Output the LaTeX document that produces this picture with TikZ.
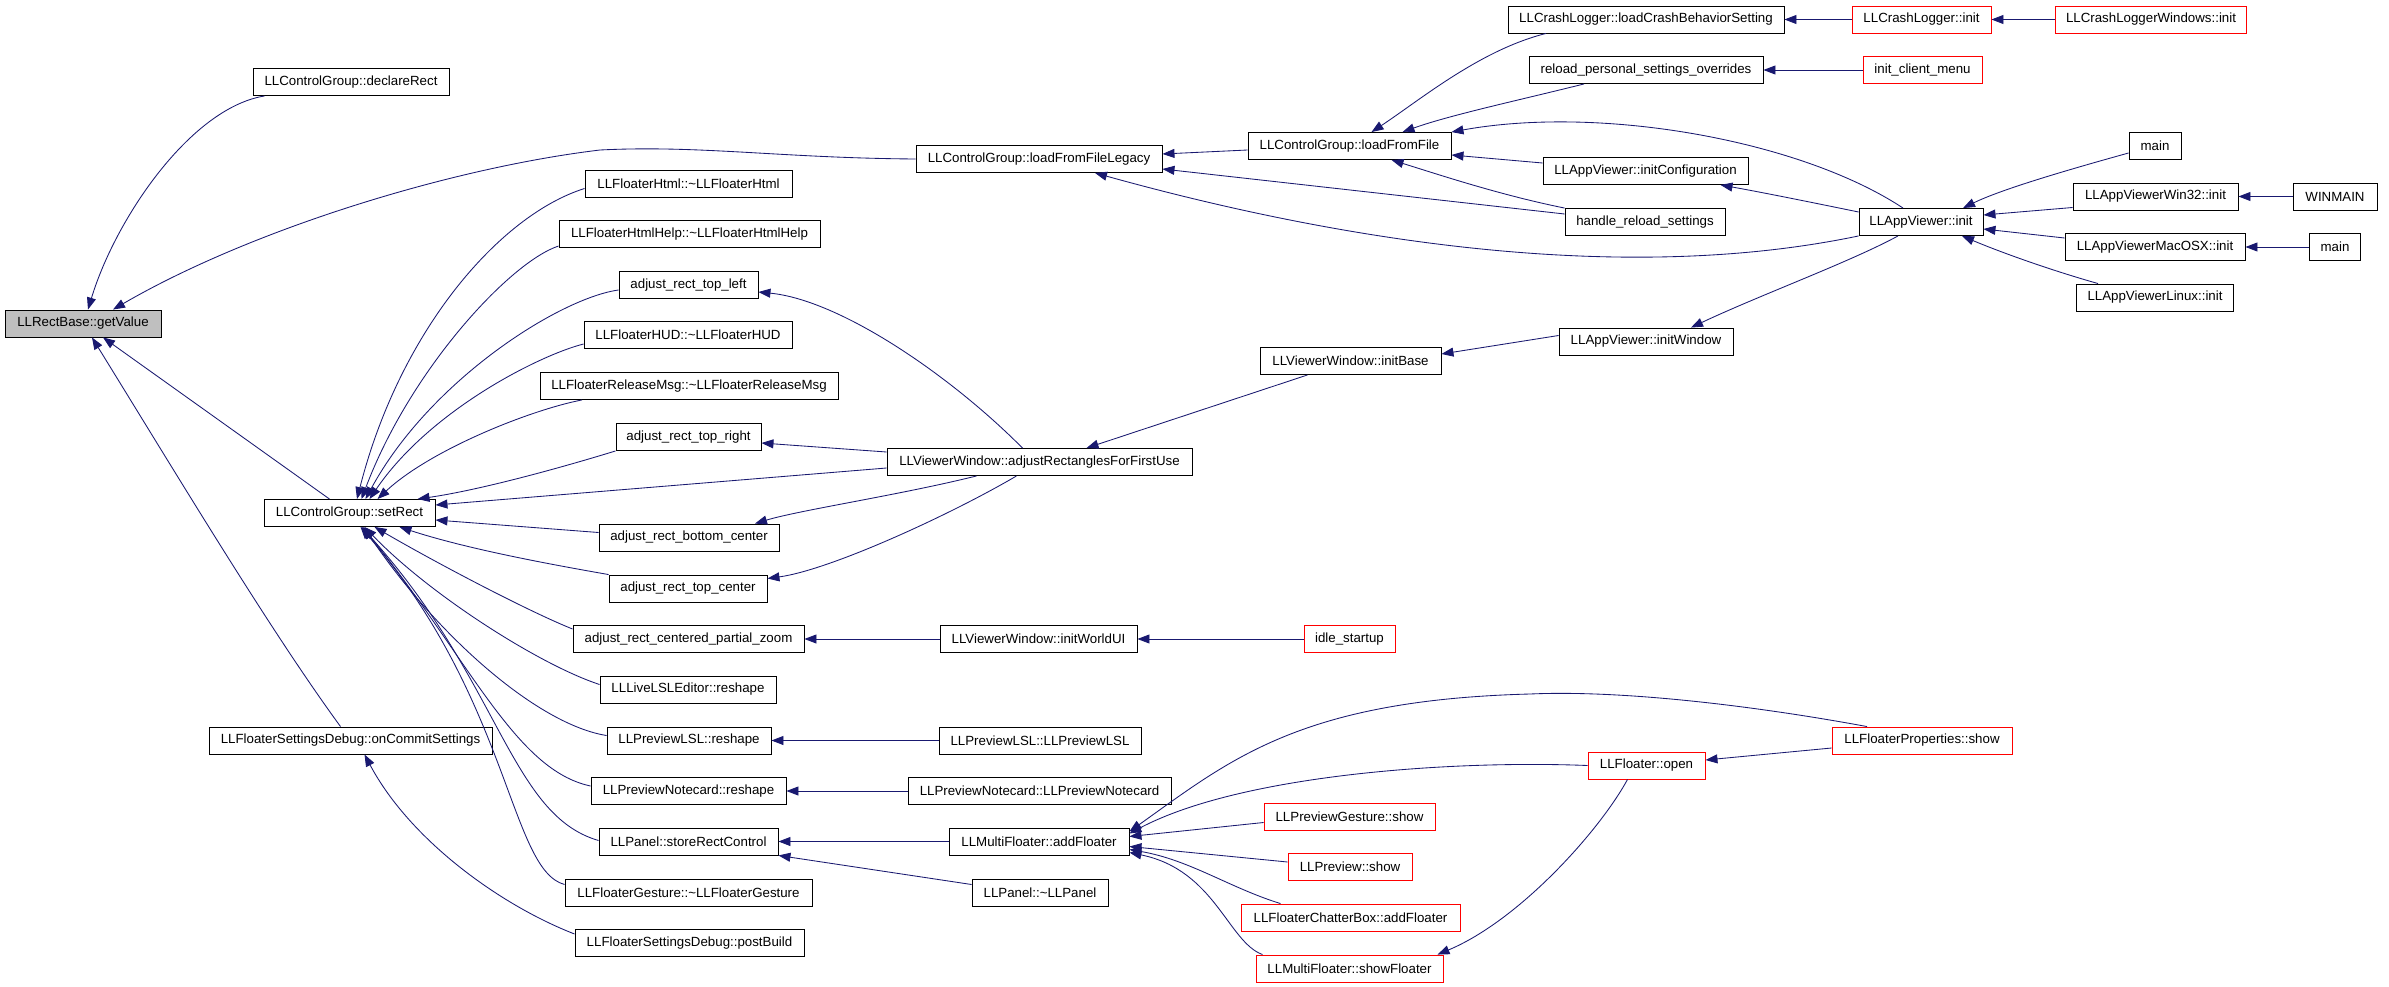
\documentclass[tikz,border=0pt]{standalone}
\usepackage{fontspec}
\setmainfont{Liberation Sans}
\usetikzlibrary{arrows.meta}
\definecolor{navyc}{HTML}{191970}
\definecolor{redc}{HTML}{FF0000}
\definecolor{grayc}{HTML}{BFBFBF}
\begin{document}
\begin{tikzpicture}[x=1pt,y=-1pt,
  fn/.style={draw=black, line width=0.9pt, rectangle, inner sep=0pt, minimum height=27pt,
    font=\fontsize{13.3}{16}\selectfont, text=black},
  fnred/.style={fn, draw=redc},
  fnroot/.style={fn, fill=grayc},
  callarrow/.style={draw=navyc, line width=0.85pt, -{Triangle[length=12pt,width=9pt]}}]
\useasboundingbox (0,0) rectangle (2389,987);
\fill[white] (0,0) rectangle (2389,987);
% nodes
\node[fnroot, minimum width=156pt] (gv) at (83,323.5) {LLRectBase::getValue};
\node[fn, minimum width=196pt] (dr) at (351,82) {LLControlGroup::declareRect};
\node[fn, minimum width=171pt] (sr) at (349.5,513) {LLControlGroup::setRect};
\node[fn, minimum width=283pt] (ocs) at (350.5,740.5) {LLFloaterSettingsDebug::onCommitSettings};
\node[fn, minimum width=246pt] (lffl) at (1039,159) {LLControlGroup::loadFromFileLegacy};
\node[fn, minimum width=207pt] (fhtml) at (688.5,183.5) {LLFloaterHtml::\textasciitilde LLFloaterHtml};
\node[fn, minimum width=261pt] (fhelp) at (689.5,234) {LLFloaterHtmlHelp::\textasciitilde LLFloaterHtmlHelp};
\node[fn, minimum width=139pt] (atl) at (688.5,285) {adjust\_rect\_top\_left};
\node[fn, minimum width=208pt] (fhud) at (688,335) {LLFloaterHUD::\textasciitilde LLFloaterHUD};
\node[fn, minimum width=298pt] (frel) at (689,386) {LLFloaterReleaseMsg::\textasciitilde LLFloaterReleaseMsg};
\node[fn, minimum width=145pt] (atr) at (688.5,437) {adjust\_rect\_top\_right};
\node[fn, minimum width=305pt] (arffu) at (1039.5,462) {LLViewerWindow::adjustRectanglesForFirstUse};
\node[fn, minimum width=180pt] (abc) at (689,537.5) {adjust\_rect\_bottom\_center};
\node[fn, minimum width=158pt] (atc) at (688,588.5) {adjust\_rect\_top\_center};
\node[fn, minimum width=231pt] (acpz) at (688.5,639) {adjust\_rect\_centered\_partial\_zoom};
\node[fn, minimum width=197pt] (iwui) at (1038.5,639) {LLViewerWindow::initWorldUI};
\node[fnred, minimum width=91pt] (idle) at (1349.5,639) {idle\_startup};
\node[fn, minimum width=176pt] (lsled) at (688,689.5) {LLLiveLSLEditor::reshape};
\node[fn, minimum width=164pt] (plslr) at (689,740.5) {LLPreviewLSL::reshape};
\node[fn, minimum width=202pt] (plslc) at (1040,740.5) {LLPreviewLSL::LLPreviewLSL};
\node[fn, minimum width=195pt] (pncr) at (688.5,791) {LLPreviewNotecard::reshape};
\node[fn, minimum width=263pt] (pncc) at (1039.5,791) {LLPreviewNotecard::LLPreviewNotecard};
\node[fn, minimum width=179pt] (srctl) at (688.5,841.5) {LLPanel::storeRectControl};
\node[fn, minimum width=180pt] (maf) at (1039,841.5) {LLMultiFloater::addFloater};
\node[fn, minimum width=247pt] (fgest) at (688.5,892.5) {LLFloaterGesture::\textasciitilde LLFloaterGesture};
\node[fn, minimum width=136pt] (pdtor) at (1040,892.5) {LLPanel::\textasciitilde LLPanel};
\node[fn, minimum width=229pt] (pbuild) at (689.5,943) {LLFloaterSettingsDebug::postBuild};
\node[fn, minimum width=181pt] (ibase) at (1350.5,361) {LLViewerWindow::initBase};
\node[fn, minimum width=203pt] (lff) at (1349.5,146) {LLControlGroup::loadFromFile};
\node[fn, minimum width=276pt] (lcbs) at (1646,19.5) {LLCrashLogger::loadCrashBehaviorSetting};
\node[fn, minimum width=234pt] (rpso) at (1646,70) {reload\_personal\_settings\_overrides};
\node[fn, minimum width=205pt] (icfg) at (1645.5,171) {LLAppViewer::initConfiguration};
\node[fn, minimum width=160pt] (hrs) at (1645,222) {handle\_reload\_settings};
\node[fn, minimum width=174pt] (iwin) at (1646,341.5) {LLAppViewer::initWindow};
\node[fn, minimum width=124pt] (avi) at (1921,222) {LLAppViewer::init};
\node[fnred, minimum width=139pt] (cli) at (1921.5,19.5) {LLCrashLogger::init};
\node[fnred, minimum width=119pt] (icm) at (1922.5,70) {init\_client\_menu};
\node[fnred, minimum width=191pt] (clw) at (2151,19.5) {LLCrashLoggerWindows::init};
\node[fn, minimum width=52pt] (mainA) at (2155,146) {main};
\node[fn, minimum width=165pt] (w32) at (2155.5,196.5) {LLAppViewerWin32::init};
\node[fn, minimum width=84pt] (winmain) at (2335,196.5) {WINMAIN};
\node[fn, minimum width=180pt] (mac) at (2155,247) {LLAppViewerMacOSX::init};
\node[fn, minimum width=51pt] (mainB) at (2335,247) {main};
\node[fn, minimum width=157pt] (lin) at (2155,297.5) {LLAppViewerLinux::init};
\node[fnred, minimum width=180pt] (fps) at (1922,740.5) {LLFloaterProperties::show};
\node[fnred, minimum width=117pt] (fopen) at (1646.5,765.5) {LLFloater::open};
\node[fnred, minimum width=171pt] (pgs) at (1349.5,816.5) {LLPreviewGesture::show};
\node[fnred, minimum width=124pt] (pvs) at (1350,867) {LLPreview::show};
\node[fnred, minimum width=219pt] (fcb) at (1350.5,917.5) {LLFloaterChatterBox::addFloater};
\node[fnred, minimum width=187pt] (msf) at (1349.5,968.5) {LLMultiFloater::showFloater};
% edges into getValue
\draw[callarrow] (dr) .. controls (190,108) and (115,220) .. ([xshift=5pt]gv.north);
\draw[callarrow] (lffl.west) .. controls (780,158) and (700,145) .. (600,150) .. controls (450,168) and (250,230) .. ([xshift=30pt]gv.north);
\draw[callarrow] ([xshift=-20pt]sr.north) -- ([xshift=20pt]gv.south);
\draw[callarrow] ([xshift=-10pt]ocs.north) .. controls (270,630) and (180,480) .. ([xshift=9pt]gv.south);
\draw[callarrow] ([yshift=9pt]pbuild.west) .. controls (500,905) and (410,840) .. ([xshift=14pt]ocs.south);
% edges into setRect
\draw[callarrow] ([yshift=-5pt]fhtml.west) .. controls (500,215) and (400,330) .. ([xshift=7.5pt]sr.north);
\draw[callarrow] ([yshift=-12pt]fhelp.west) .. controls (510,262) and (410,370) .. ([xshift=12pt]sr.north);
\draw[callarrow] ([yshift=-5pt]atl.west) .. controls (560,298) and (430,380) .. ([xshift=16pt]sr.north);
\draw[callarrow] ([yshift=-9pt]fhud.west) .. controls (540,355) and (430,410) .. ([xshift=20pt]sr.north);
\draw[callarrow] ([xshift=-107pt]frel.south) .. controls (530,410) and (430,450) .. ([xshift=28pt]sr.north);
\draw[callarrow] (atr.south west) .. controls (560,468) and (480,490) .. ([xshift=68pt]sr.north);
\draw[callarrow] ([yshift=-6pt]arffu.west) -- ([yshift=8pt]sr.east);
\draw[callarrow] ([yshift=5pt]abc.west) -- ([yshift=-7pt]sr.east);
\draw[callarrow] (atc.north west) .. controls (560,566) and (470,550) .. ([xshift=50pt]sr.south);
\draw[callarrow] ([yshift=10pt]acpz.west) .. controls (530,612) and (440,565) .. ([xshift=25pt]sr.south);
\draw[callarrow] ([yshift=5pt]lsled.west) .. controls (540,665) and (430,595) .. ([xshift=15pt]sr.south);
\draw[callarrow] ([yshift=5pt]plslr.west) .. controls (540,725) and (440,640) .. ([xshift=14pt]sr.south);
\draw[callarrow] ([yshift=5pt]pncr.west) .. controls (515,770) and (470,660) .. ([xshift=13pt]sr.south);
\draw[callarrow] ([yshift=1pt]srctl.west) .. controls (510,815) and (500,680) .. ([xshift=12pt]sr.south);
\draw[callarrow] ([yshift=8pt]fgest.west) .. controls (510,870) and (510,700) .. ([xshift=11pt]sr.south);
% adjustRectanglesForFirstUse callees
\draw[callarrow] ([xshift=-17pt]arffu.north) .. controls (950,375) and (840,300) .. ([yshift=-7pt]atl.east);
\draw[callarrow] ([yshift=10pt]arffu.west) -- ([yshift=-6pt]atr.east);
\draw[callarrow] ([xshift=-63pt]arffu.south) .. controls (900,495) and (800,510) .. ([xshift=66pt]abc.north);
\draw[callarrow] ([xshift=-23pt]arffu.south) .. controls (950,515) and (830,570) .. ([yshift=10pt]atc.east);
\draw[callarrow] ([xshift=-43pt]ibase.south) -- ([xshift=47pt]arffu.north);
\draw[callarrow] ([yshift=6pt]iwin.west) -- ([yshift=7pt]ibase.east);
\draw[callarrow] ([xshift=-23pt]avi.south) .. controls (1850,262) and (1760,295) .. ([xshift=45pt]iwin.north);
% straight rows
\draw[callarrow] (iwui) -- (acpz);
\draw[callarrow] (idle) -- (iwui);
\draw[callarrow] (plslc) -- (plslr);
\draw[callarrow] (pncc) -- (pncr);
\draw[callarrow] (maf) -- (srctl);
\draw[callarrow] ([yshift=8pt]pdtor.west) -- (srctl.south east);
% loadFromFile family
\draw[callarrow] ([yshift=-4pt]lff.west) -- ([yshift=5pt]lffl.east);
\draw[callarrow] ([yshift=8pt]hrs.west) -- ([yshift=-10pt]lffl.east);
\draw[callarrow] (avi.south west) .. controls (1600,290) and (1300,230) .. ([xshift=56pt]lffl.south);
\draw[callarrow] ([xshift=-100pt]lcbs.south) .. controls (1480,50) and (1420,100) .. ([xshift=22pt]lff.north);
\draw[callarrow] ([xshift=-62pt]rpso.south) .. controls (1520,100) and (1450,115) .. ([xshift=53pt]lff.north);
\draw[callarrow] ([xshift=-18pt]avi.north) .. controls (1800,140) and (1600,105) .. (lff.north east);
\draw[callarrow] ([yshift=8pt]icfg.west) -- ([yshift=-9pt]lff.east);
\draw[callarrow] (hrs.north west) .. controls (1500,195) and (1440,175) .. ([xshift=42pt]lff.south);
\draw[callarrow] ([yshift=10pt]avi.west) .. controls (1800,200) and (1760,192) .. ([xshift=75pt]icfg.south);
\draw[callarrow] (cli) -- (lcbs);
\draw[callarrow] (icm) -- (rpso);
\draw[callarrow] (clw) -- (cli);
% LLAppViewer::init callers
\draw[callarrow] ([yshift=-7pt]mainA.west) .. controls (2060,172) and (2000,190) .. ([xshift=42pt]avi.north);
\draw[callarrow] ([yshift=-11pt]w32.west) -- ([yshift=7pt]avi.east);
\draw[callarrow] ([yshift=9pt]mac.west) -- ([yshift=-7pt]avi.east);
\draw[callarrow] ([xshift=-57pt]lin.north) .. controls (2050,270) and (2000,252) .. ([xshift=41pt]avi.south);
\draw[callarrow] (winmain) -- (w32);
\draw[callarrow] (mainB) -- (mac);
% addFloater callers
\draw[callarrow] ([xshift=-55pt]fps.north) .. controls (1750,705) and (1620,690) .. (1530,694) .. controls (1300,700) and (1230,760) .. ([yshift=10pt]maf.east);
\draw[callarrow] (fopen.west) .. controls (1450,760) and (1240,775) .. ([yshift=8pt]maf.east);
\draw[callarrow] ([yshift=-6pt]pgs.west) -- ([yshift=5pt]maf.east);
\draw[callarrow] ([yshift=5pt]pvs.west) -- ([yshift=-5pt]maf.east);
\draw[callarrow] ([xshift=-70pt]fcb.north) .. controls (1230,888) and (1190,860) .. ([yshift=-8pt]maf.east);
\draw[callarrow] ([xshift=-87pt]msf.north) .. controls (1228,942) and (1215,870) .. ([yshift=-11pt]maf.east);
\draw[callarrow] ([yshift=-7.5pt]fps.west) -- ([yshift=5.5pt]fopen.east);
\draw[callarrow] ([xshift=-19pt]fopen.south) .. controls (1600,830) and (1520,920) .. ([xshift=88pt]msf.north);
\end{tikzpicture}
\end{document}
